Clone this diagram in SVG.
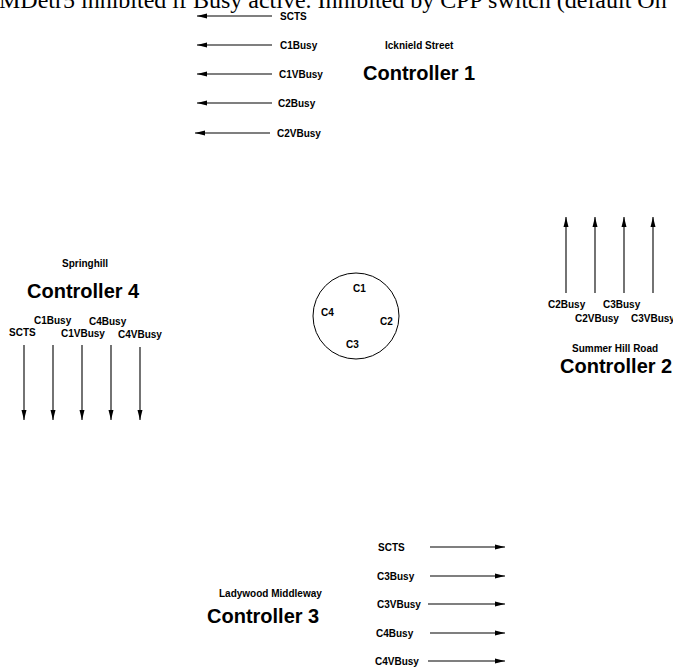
<svg xmlns="http://www.w3.org/2000/svg" width="673" height="669" viewBox="0 0 673 669">
<defs>
<marker id="ah" markerWidth="10" markerHeight="6" refX="10" refY="3" orient="auto" markerUnits="userSpaceOnUse">
<path d="M0,0.5 L10,3 L0,5.5 z" fill="#000"/>
</marker>
<style>
.lbl{font-family:"Liberation Sans",Arial,sans-serif;font-size:10px;font-weight:bold;fill:#000}
.ttl{font-family:"Liberation Sans",Arial,sans-serif;font-size:20px;font-weight:bold;fill:#000}
.hdr{font-family:"Liberation Serif","Times New Roman",serif;font-size:24px;fill:#000}
.arr{stroke:#000;stroke-width:1.1;fill:none;marker-end:url(#ah)}
</style>
</defs>
<rect width="673" height="669" fill="#fff"/>
<text class="hdr" x="-1" y="8">MDetr5 inhibited if Busy active. Inhibited by CPP switch (default On</text>
<g id="connectors">
<line class="arr" x1="272" y1="16" x2="197" y2="16"/>
<line class="arr" x1="272" y1="45" x2="197" y2="45"/>
<line class="arr" x1="272" y1="74" x2="197" y2="74"/>
<line class="arr" x1="272" y1="103" x2="197" y2="103"/>
<line class="arr" x1="270" y1="133" x2="195" y2="133"/>
<line class="arr" x1="24" y1="345" x2="24" y2="420"/>
<line class="arr" x1="53" y1="345" x2="53" y2="420"/>
<line class="arr" x1="82" y1="345" x2="82" y2="420"/>
<line class="arr" x1="111" y1="345" x2="111" y2="420"/>
<line class="arr" x1="140" y1="347" x2="140" y2="420"/>
<line class="arr" x1="566" y1="293" x2="566" y2="217"/>
<line class="arr" x1="595" y1="293" x2="595" y2="217"/>
<line class="arr" x1="624" y1="293" x2="624" y2="217"/>
<line class="arr" x1="653" y1="293" x2="653" y2="217"/>
<line class="arr" x1="430" y1="547" x2="505" y2="547"/>
<line class="arr" x1="430" y1="576" x2="505" y2="576"/>
<line class="arr" x1="428" y1="604" x2="505" y2="604"/>
<line class="arr" x1="430" y1="633" x2="505" y2="633"/>
<line class="arr" x1="428" y1="661" x2="505" y2="661"/>
</g>
<g id="controller1">
<text class="lbl" x="280" y="20">SCTS</text>
<text class="lbl" x="280" y="49">C1Busy</text>
<text class="lbl" x="279" y="78">C1VBusy</text>
<text class="lbl" x="278" y="107">C2Busy</text>
<text class="lbl" x="277" y="137">C2VBusy</text>
<text class="lbl" x="385" y="49">Icknield Street</text>
<text class="ttl" x="363" y="80">Controller 1</text>
</g>
<g id="controller4">
<text class="lbl" x="62" y="267">Springhill</text>
<text class="ttl" x="27" y="298">Controller 4</text>
<text class="lbl" x="9" y="336">SCTS</text>
<text class="lbl" x="34" y="324">C1Busy</text>
<text class="lbl" x="61" y="337">C1VBusy</text>
<text class="lbl" x="89" y="325">C4Busy</text>
<text class="lbl" x="118" y="338">C4VBusy</text>
</g>
<g id="controller2">
<text class="lbl" x="548" y="308">C2Busy</text>
<text class="lbl" x="603" y="308">C3Busy</text>
<text class="lbl" x="575" y="322">C2VBusy</text>
<text class="lbl" x="631" y="322">C3VBusy</text>
<text class="lbl" x="572" y="352">Summer Hill Road</text>
<text class="ttl" x="560" y="373">Controller 2</text>
</g>
<g id="junction">
<circle cx="356" cy="316" r="43" fill="none" stroke="#000" stroke-width="1"/>
<text class="lbl" x="353" y="292">C1</text>
<text class="lbl" x="321" y="316">C4</text>
<text class="lbl" x="380" y="325">C2</text>
<text class="lbl" x="346" y="348">C3</text>
</g>
<g id="controller3">
<text class="lbl" x="378" y="551">SCTS</text>
<text class="lbl" x="377" y="580">C3Busy</text>
<text class="lbl" x="377" y="608">C3VBusy</text>
<text class="lbl" x="376" y="637">C4Busy</text>
<text class="lbl" x="375" y="665">C4VBusy</text>
<text class="lbl" x="219" y="597">Ladywood Middleway</text>
<text class="ttl" x="207" y="623">Controller 3</text>
</g>
</svg>
